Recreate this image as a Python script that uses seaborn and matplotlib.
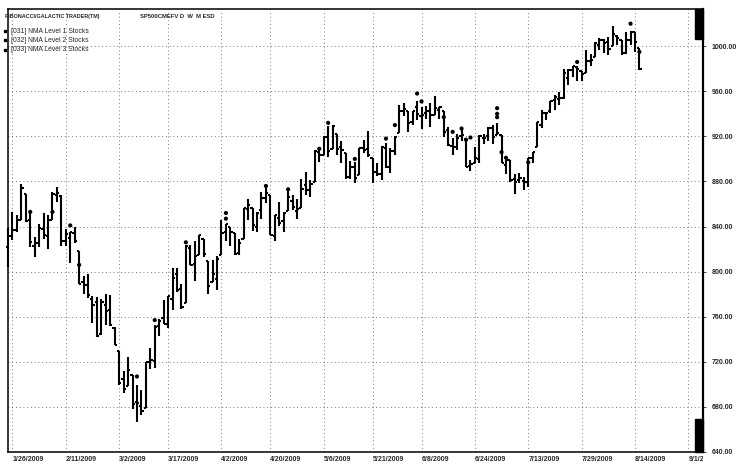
import numpy as np
import pandas as pd
import matplotlib
matplotlib.use('Agg')
from matplotlib import pyplot as plt
from matplotlib.transforms import Bbox
import seaborn as sns

# daily bars, 1/23/2009 .. 8/17/2009
opens = [822, 832, 837, 845.7, 868.9, 845.7,
         823, 825.7, 837.8, 831.8, 846.1, 868.2, 866.9, 827.4, 829.9, 833.95, 818.6, 791.1, 787.9, 775.9,
         773.3, 744.7, 770.6, 765.8, 749.9,
         729.6, 704.4, 698.6, 708.3, 684, 680.8, 679.3, 719.6, 720.9, 751.97, 758.8, 753.9, 776, 797.9, 784.6,
         772.3, 820.6, 806.8, 814.5, 828.7, 809.1, 790.9,
         793.6, 814.5, 835.1, 839.75, 834.1, 816.8, 829.3, 855.3, 856.2, 839.4, 854.5, 865.2, 868.3, 831.3,
         847.3, 844.6, 853.9, 862.8, 854, 856.9, 876.6,
         872.7, 879.2, 906.1, 903.9, 919.6, 909, 922, 910.5, 905.4, 884.2, 892.8, 886.1, 909.7, 908.6, 900.4,
         888.7, 887, 909.95, 892.96, 907,
         923.3, 942.9, 942.5, 932.5, 945.7, 938.1, 940.4, 942.7, 939, 943.4, 942.5, 925.6, 911.9, 910.9, 919.96,
         918.1, 893.5, 896.3, 899.5, 918.8, 919.9, 927.2,
         920.8, 921.2, 894.3, 898.6, 881.9, 881.3, 880, 879.6, 900.8, 910.15, 930.2, 940.6, 942.1, 951.97,
         953.4, 954.1, 972.2, 978.6, 981.5, 977.7, 976, 986.8,
         990.2, 1001.4, 1005.4, 1004.1, 999.8, 1008.9, 1005.8, 994, 1005.9, 1012.2, 998.2]
highs = [838.6, 852.5, 850.5, 877.9, 868.9, 851.7,
         830.8, 842.6, 851.9, 850.6, 870.8, 875, 868.1, 838.2, 835.5, 839.4, 818.6, 796.2, 797.6, 778.7,
         777.9, 775.5, 780.1, 779.4, 751.3,
         729.6, 711.7, 724.1, 708.3, 699.1, 695.3, 719.6, 731.9, 752.6, 758.3, 774.5, 778.1, 803, 803.2, 788.9,
         823.4, 823.4, 826.8, 832.9, 828.7, 809.1, 810.5,
         813.6, 845.6, 842.6, 839.8, 834.1, 828.9, 856.9, 864.3, 856.2, 852.9, 870.4, 875.6, 868.3, 850.1,
         861.8, 852.9, 871.8, 868.3, 864.5, 882.1, 888.7,
         880.9, 907.9, 907.7, 920.3, 929.6, 930.2, 922, 915.6, 905.4, 898.4, 897, 910, 916.4, 924.6, 900.4,
         896.7, 911.8, 913.8, 909.5, 920,
         947.8, 949.4, 942.5, 942.5, 951.7, 946.3, 947, 949.8, 956.2, 946.3, 942.5, 928, 918.4, 921.9, 927.1,
         918.1, 898.7, 910.9, 921.4, 922, 928, 930,
         931.9, 921.2, 898.7, 898.6, 886.8, 887.9, 883.6, 901.1, 905.8, 933, 943, 941.9, 951.6, 956.5,
         959.8, 979.4, 979.8, 982.5, 982.3, 977.8, 996.7, 993.2,
         1003.6, 1007.1, 1006.6, 1008, 1018, 1010.1, 1005.8, 1012.8, 1013.1, 1012.6, 998.6]
lows = [804.3, 827.7, 835.4, 845.7, 844, 821.7,
        812.9, 821.9, 829.2, 819.9, 845.9, 861.7, 822.99, 823, 808.1, 825.2, 789.2, 780.4, 777, 754.3,
        742.4, 743.7, 752.9, 751.8, 734.5,
        699.7, 692.3, 698.6, 677.9, 666.8, 672.9, 679.3, 713.9, 714.8, 742.5, 753.4, 749.9, 765.6, 781.8, 766.6,
        772.3, 805.5, 791.4, 814.5, 813.4, 779.8, 790.9,
        783.3, 814.5, 826.8, 822.8, 814.5, 814.8, 829.3, 845.4, 836.3, 835.6, 847, 860.9, 832.4, 826.8,
        840.6, 835.6, 853.9, 854.7, 847.1, 856.9, 868.3,
        866.1, 879.2, 897.3, 903.9, 901.4, 909, 903.7, 896.5, 882.5, 882.5, 878.9, 886.1, 905.2, 901.4, 879,
        884.8, 881.5, 891.9, 887.6, 903.3,
        923.3, 938.5, 923.9, 929.9, 934.1, 926.4, 935.7, 928, 939, 935.7, 919.7, 911.6, 903.8, 907.9, 915.8,
        893, 888.9, 896.3, 896.3, 913, 916.2, 912.9,
        920.8, 896.4, 886.4, 879.9, 869.3, 878.5, 872.8, 875.3, 896.5, 910.15, 927.4, 934.5, 941, 943.2,
        947.9, 953.3, 966, 972.3, 969.1, 968.7, 976, 982.4,
        990.2, 996.7, 994.3, 992.5, 999.8, 1001, 992.4, 993.4, 1000.8, 994.6, 978.5]
closes = [832, 836.6, 845.7, 874.1, 845.1, 825.9,
          825.4, 838.5, 832.2, 845.9, 868.6, 869.9, 827.2, 833.7, 835.2, 826.8, 789.2, 788.4, 778.9, 770.05,
          743.3, 773.1, 764.9, 752.8, 735.1,
          700.8, 696.3, 712.9, 682.55, 683.4, 676.5, 719.6, 721.4, 750.7, 756.55, 753.9, 778.1, 794.35, 784, 768.5,
          822.9, 806.1, 813.9, 832.9, 815.9, 787.5, 797.9,
          811.1, 834.4, 842.5, 835.5, 815.55, 825.2, 856.6, 858.7, 841.5, 852.1, 865.3, 869.6, 832.4, 850.1,
          843.55, 851.9, 866.2, 857.5, 855.2, 873.6, 872.8,
          877.5, 907.2, 903.8, 919.5, 907.4, 929.2, 909.2, 908.35, 883.9, 893.1, 882.9, 909.7, 908.1, 903.5, 888.3,
          887, 910.3, 893.1, 906.8, 919.1,
          942.9, 944.7, 931.8, 942.5, 940.1, 939.1, 942.4, 939.2, 944.9, 946.2, 923.7, 912, 910.7, 918.4, 921.2,
          893, 895.1, 900.9, 920.3, 918.9, 927.2, 919.3,
          923.3, 896.4, 898.7, 881, 879.6, 882.7, 879.1, 901.05, 905.8, 932.7, 940.7, 940.4, 951.1, 954.6,
          954.1, 976.3, 979.3, 982.2, 979.6, 975.15, 986.75, 987.5,
          1002.6, 1005.65, 1002.7, 997.1, 1010.5, 1007.1, 994.35, 1005.8, 1012.7, 1004.1, 979.7]

holidays = ['2009-02-16', '2009-04-10', '2009-05-25', '2009-07-03']

# NMA indicator dots (bar index from 1/26/2009, price)
dot_idx = [4, 9, 13, 15, 28, 32, 39, 48, 48, 57, 62, 69, 71, 77, 84, 86, 91, 92, 97, 99, 101, 102,
           103, 109, 109, 109, 110, 111, 116, 127, 139, 141]
dot_val = [853, 853, 841, 806, 707, 757, 826, 852, 847, 876, 873, 909, 932, 900, 918, 930, 958, 951, 937,
           924, 927, 917, 919, 945, 940, 937, 906, 901, 897, 986, 1020, 995]

tick_dates = ['1/26/2009', '2/11/2009', '3/2/2009', '3/17/2009', '4/2/2009', '4/20/2009', '5/6/2009',
              '5/21/2009', '6/8/2009', '6/24/2009', '7/13/2009', '7/29/2009', '8/14/2009', '9/1/2009']
y_ticks = [640, 680, 720, 760, 800, 840, 880, 920, 960, 1000]
legend_lines = ['[031] NMA Level 1 Stocks', '[032] NMA Level 2 Stocks', '[033] NMA Level 3 Stocks']

sns.set_style('white')
plt.rcParams['font.family'] = ['Liberation Sans', 'DejaVu Sans']
plt.rcParams['font.size'] = 5

dates = pd.bdate_range('2009-01-23', '2009-10-01')
dates = dates[~dates.isin(pd.to_datetime(holidays))]
x0 = list(dates).index(pd.Timestamp('2009-01-26'))
pos = np.arange(len(dates)) - x0

df = pd.DataFrame({'x': pos[:len(closes)], 'o': opens, 'h': highs, 'l': lows, 'c': closes})
dots = pd.DataFrame({'x': dot_idx, 'v': dot_val})

fig = plt.figure(figsize=(7.42, 4.67), dpi=100)
ax = fig.add_axes([8 / 742, 15 / 467, 695 / 742, 443 / 467])

ax.vlines(df['x'], df['l'], df['h'], color='black', lw=1.5, clip_on=False)
ax.hlines(df['o'], df['x'] - 0.5, df['x'], color='black', lw=1.5, clip_on=False)
ax.hlines(df['c'], df['x'], df['x'] + 0.5, color='black', lw=1.5, clip_on=False)
sns.scatterplot(data=dots, x='x', y='v', ax=ax, color='black', s=9, marker='o', edgecolor='none',
                legend=False, zorder=5)

ax.set_xlim(-1.0, 155.3)
ax.set_ylim(640, 1033)

tick_pos = [pos[list(dates).index(pd.to_datetime(d))] for d in tick_dates]
ax.set_xticks(tick_pos)
ax.set_xticklabels(tick_dates, ha='left', fontweight='bold')
ax.set_yticks(y_ticks)
ax.set_yticklabels(['{:.2f}'.format(v) for v in y_ticks], fontweight='bold')
ax.yaxis.tick_right()
ax.tick_params(axis='x', length=0, pad=3)
ax.tick_params(axis='y', length=2, width=0.6, pad=4, right=True)
ax.set_xlabel(None)
ax.set_ylabel(None)

ax.grid(True, color='0.3', lw=0.6, linestyle=(0, (1, 3.5)))
for s in ['left', 'bottom', 'top']:
    ax.spines[s].set_color('black')
    ax.spines[s].set_linewidth(1.1)
ax.spines['right'].set_color('black')
ax.spines['right'].set_linewidth(1.6)

# clip the last date label at the right frame, as in the source
fig.canvas.draw()
lab = ax.get_xticklabels()[-1]
lab.set_clip_on(True)
lab.set_clip_box(Bbox.from_extents(0, 0, 703, 467))

# header and legend block
ax.text(-0.004, 0.988, 'FIBONACCI/GALACTIC TRADER(TM)', transform=ax.transAxes, fontsize=3.9,
        fontweight='bold', va='top', ha='left')
ax.text(0.19, 0.988, 'SP500CMEFV D  W  M ESD', transform=ax.transAxes, fontsize=4.2,
        fontweight='bold', va='top', ha='left')
for k, t in enumerate(legend_lines):
    yy = 0.95 - k * 0.021
    ax.text(0.004, yy, t, transform=ax.transAxes, fontsize=4.9, va='center', ha='left')
    ax.plot([-0.005], [yy], 's', ms=2.0, color='black', transform=ax.transAxes, clip_on=False)

# scroll widgets on the right frame
ax.add_patch(plt.Rectangle((0.988, 0.932), 0.012, 0.068, transform=ax.transAxes, color='black',
                           clip_on=False))
ax.add_patch(plt.Rectangle((0.988, 0.0), 0.012, 0.075, transform=ax.transAxes, color='black',
                           clip_on=False))

plt.savefig('out.png', dpi=100)
